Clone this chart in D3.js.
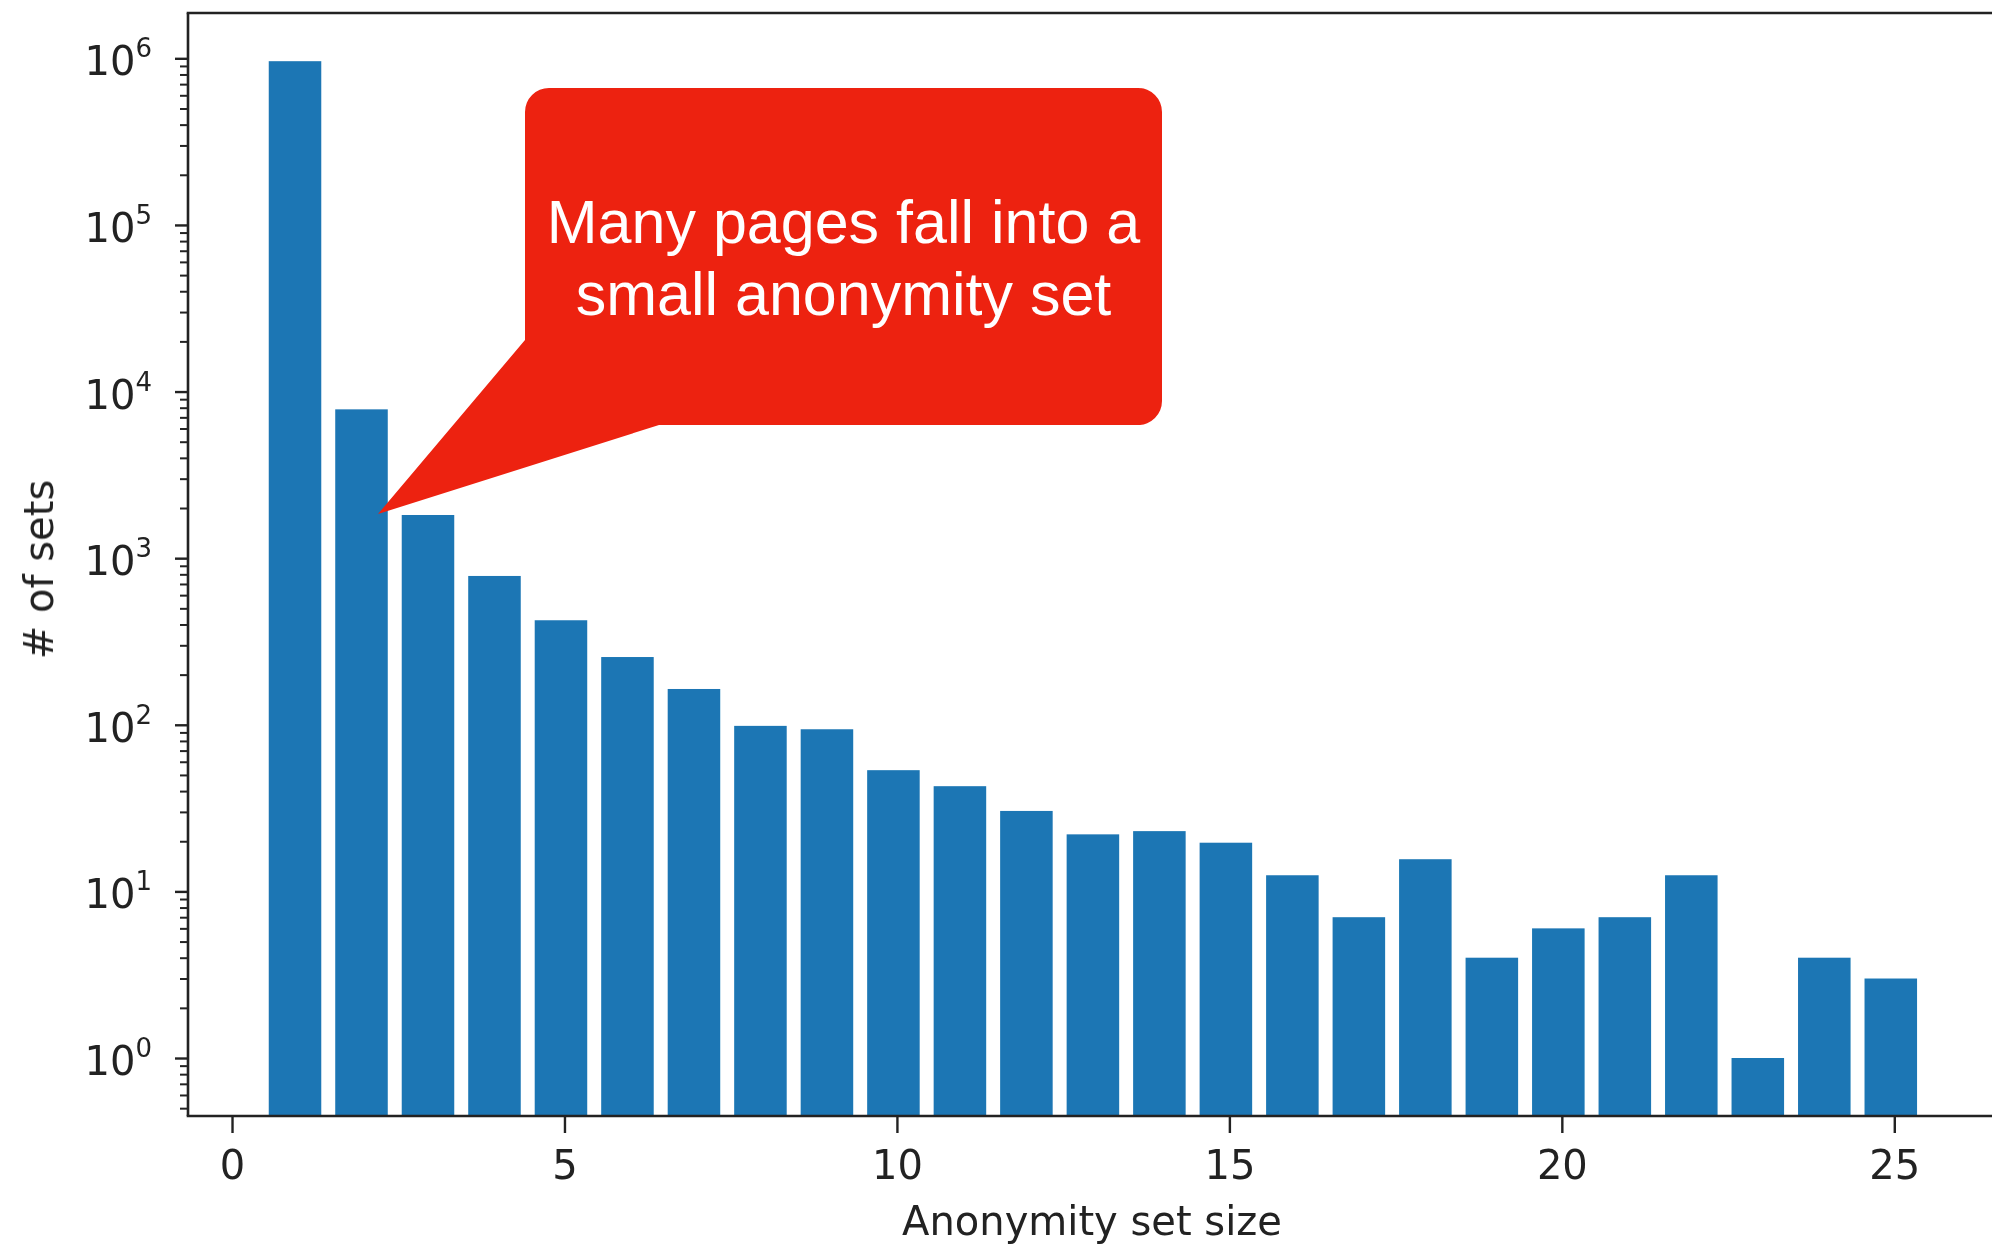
<!DOCTYPE html>
<html>
<head>
<meta charset="utf-8">
<script src="https://cdn.jsdelivr.net/npm/d3@7"></script>
<style>
  html, body { margin: 0; padding: 0; background: #fff; }
  svg { display: block; }
</style>
</head>
<body>
<svg id="chart" width="1992" height="1244"></svg>
<script>
// Anonymity set sizes and how many sets have each size
const setSizes = [1, 2, 3, 4, 5, 6, 7, 8, 9, 10, 11, 12, 13, 14, 15, 16, 17, 18, 19, 20, 21, 22, 23, 24, 25];
const setCounts = [961000, 7820, 1816, 782, 424, 255, 164, 98.5, 94, 53.4, 42.8, 30.4, 22, 23, 19.6, 12.5, 7, 15.6, 4, 6, 7, 12.5, 1, 4, 3];

// Axis ticks
const xTicks = [0, 5, 10, 15, 20, 25];
const yExponents = [0, 1, 2, 3, 4, 5, 6];

// Text
const xTitle = "Anonymity set size";
const yTitle = "# of sets";
const calloutLines = ["Many pages fall into a", "small anonymity set"];

const svg = d3.select("#chart");

const plot = { left: 188, right: 2004, top: 13, bottom: 1116 };

const x = d3.scaleLinear().domain([-0.662, 26.65]).range([plot.left, plot.right]);
const y = d3.scaleLog().domain([Math.pow(10, -0.348), Math.pow(10, 6.272)]).range([plot.bottom, plot.top]);

const barWidth = 0.79;
const tickFont = "'DejaVu Sans', 'Bitstream Vera Sans', sans-serif";
const ink = "#222222";

// soft rendering for the plot area
const defs = svg.append("defs");
defs.append("filter").attr("id", "soft")
  .attr("x", "-2%").attr("y", "-2%").attr("width", "104%").attr("height", "104%")
  .append("feGaussianBlur").attr("stdDeviation", 0.6);

const chart = svg.append("g").attr("filter", "url(#soft)");

// Bars (the bar layer sits a few pixels left of the tick marks)
chart.append("g")
  .attr("transform", "translate(-3.5,0)")
  .selectAll("rect")
  .data(setSizes.map((s, i) => ({ size: s, count: setCounts[i] })))
  .join("rect")
  .attr("x", d => x(d.size - barWidth / 2))
  .attr("width", d => x(d.size + barWidth / 2) - x(d.size - barWidth / 2))
  .attr("y", d => y(d.count))
  .attr("height", d => plot.bottom - y(d.count))
  .attr("fill", "#1a76b4");

// X axis
const xAxis = chart.append("g")
  .attr("transform", `translate(0,${plot.bottom})`)
  .call(d3.axisBottom(x).tickValues(xTicks).tickSize(17).tickSizeOuter(0).tickPadding(17.6).tickFormat(d3.format("d")));
xAxis.select(".domain").remove();
xAxis.selectAll(".tick line").attr("stroke", ink).attr("stroke-width", 2.4);
xAxis.selectAll(".tick text").attr("fill", ink).style("font-family", tickFont).style("font-size", "40px");

// Y axis: major and minor ticks
const majorVals = yExponents.map(e => Math.pow(10, e));
const minorVals = [];
[-1, 0, 1, 2, 3, 4, 5].forEach(e => {
  for (let m = 2; m <= 9; m++) {
    const v = m * Math.pow(10, e);
    if (v >= y.domain()[0] && v <= y.domain()[1]) minorVals.push(v);
  }
});

const yMinor = chart.append("g")
  .attr("transform", `translate(${plot.left},0)`)
  .call(d3.axisLeft(y).tickValues(minorVals).tickSize(8).tickSizeOuter(0).tickFormat(""));
yMinor.select(".domain").remove();
yMinor.selectAll(".tick line").attr("stroke", ink).attr("stroke-width", 2);

const yMajor = chart.append("g")
  .attr("transform", `translate(${plot.left},0)`)
  .call(d3.axisLeft(y).tickValues(majorVals).tickSize(13).tickSizeOuter(0).tickFormat(""));
yMajor.select(".domain").remove();
yMajor.selectAll(".tick line").attr("stroke", ink).attr("stroke-width", 2.4);

// Y tick labels as 10 with superscript exponent
const yLabels = chart.append("g");
yExponents.forEach(e => {
  const t = yLabels.append("text")
    .attr("x", 152)
    .attr("y", y(Math.pow(10, e)) + 17)
    .attr("text-anchor", "end")
    .attr("fill", ink)
    .style("font-family", tickFont)
    .style("font-size", "40px");
  t.append("tspan").text("10");
  t.append("tspan").attr("dy", -18).style("font-size", "26px").text(e);
});

// Spines: left, bottom, top
chart.append("line").attr("x1", plot.left).attr("x2", plot.left).attr("y1", plot.top).attr("y2", plot.bottom)
  .attr("stroke", ink).attr("stroke-width", 2.6);
chart.append("line").attr("x1", plot.left - 1.3).attr("x2", plot.right).attr("y1", plot.bottom).attr("y2", plot.bottom)
  .attr("stroke", ink).attr("stroke-width", 2.6);
chart.append("line").attr("x1", plot.left - 1.3).attr("x2", plot.right).attr("y1", plot.top).attr("y2", plot.top)
  .attr("stroke", ink).attr("stroke-width", 2.6);

// Axis titles
chart.append("text")
  .attr("x", (plot.left + plot.right) / 2 - 4)
  .attr("y", 1235)
  .attr("text-anchor", "middle")
  .attr("fill", ink)
  .style("font-family", tickFont)
  .style("font-size", "40px")
  .text(xTitle);

chart.append("text")
  .attr("transform", `translate(53,${(plot.top + plot.bottom) / 2 + 5}) rotate(-90)`)
  .attr("text-anchor", "middle")
  .attr("fill", ink)
  .style("font-family", tickFont)
  .style("font-size", "40px")
  .text(yTitle);

// Callout bubble pointing at the second bar
const box = { x0: 525, x1: 1162, y0: 88, y1: 425, r: 24 };
const tip = [378, 514];
const tailTop = 340;   // where the tail leaves the left edge
const tailRight = 659; // where the tail meets the bottom edge

const p = d3.path();
p.moveTo(box.x0 + box.r, box.y0);
p.lineTo(box.x1 - box.r, box.y0);
p.arcTo(box.x1, box.y0, box.x1, box.y0 + box.r, box.r);
p.lineTo(box.x1, box.y1 - box.r);
p.arcTo(box.x1, box.y1, box.x1 - box.r, box.y1, box.r);
p.lineTo(tailRight, box.y1);
p.lineTo(tip[0], tip[1]);
p.lineTo(box.x0, tailTop);
p.lineTo(box.x0, box.y0 + box.r);
p.arcTo(box.x0, box.y0, box.x0 + box.r, box.y0, box.r);
p.closePath();

svg.append("path").attr("d", p.toString()).attr("fill", "#ED2210");

const callout = svg.append("text")
  .attr("text-anchor", "middle")
  .attr("fill", "#ffffff")
  .style("font-family", "'Liberation Sans', Arial, Helvetica, sans-serif")
  .style("font-size", "61px");
calloutLines.forEach((line, i) => {
  callout.append("tspan")
    .attr("x", (box.x0 + box.x1) / 2)
    .attr("y", 243 + i * 72)
    .text(line);
});
</script>
</body>
</html>
